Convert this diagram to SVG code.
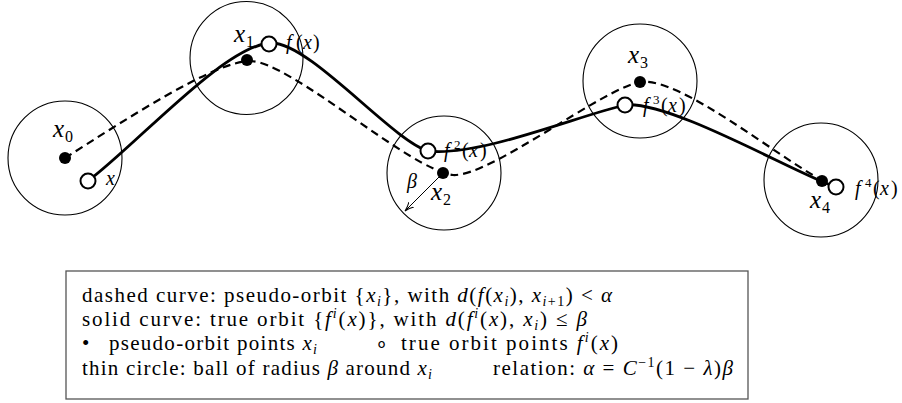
<svg xmlns="http://www.w3.org/2000/svg" width="902" height="403" viewBox="0 0 902 403">
<defs>
<style>
.ball{fill:none;stroke:#000;stroke-width:1.1}
.pt{fill:#000}
.tp{fill:#fff;stroke:#000;stroke-width:2}
.lab{font-family:"Liberation Serif","Times New Roman",serif;font-style:italic;font-size:25px;fill:#000}
.sub{font-size:16px;font-style:normal}
.flab{font-family:"Liberation Serif","Times New Roman",serif;font-style:italic;font-size:20px;fill:#000}
.up{font-style:normal}
.sup{font-size:13px;font-style:normal}
.dash{fill:none;stroke:#000;stroke-width:2.2;stroke-dasharray:8 5}
.solid{fill:none;stroke:#000;stroke-width:2.8;stroke-linecap:round}
.leg{font-family:"Liberation Serif","Times New Roman",serif;font-size:21px;fill:#000}
.i{font-style:italic}
.s{font-size:14px}
</style>
<marker id="ah" markerWidth="10" markerHeight="8" refX="9" refY="4" orient="auto" markerUnits="userSpaceOnUse">
<path d="M0,0.5 Q4,3 9,4 Q4,5 0,7.5" fill="none" stroke="#000" stroke-width="1"/>
</marker>
</defs>

<g id="balls">
<circle class="ball" cx="65" cy="158" r="57"/>
<circle class="ball" cx="246.5" cy="58" r="56.5"/>
<circle class="ball" cx="444" cy="173" r="57"/>
<circle class="ball" cx="640" cy="81" r="57"/>
<circle class="ball" cx="821" cy="180" r="57"/>
</g>

<g id="connectors">
<path id="pseudo-orbit" class="dash" d="M65,158 C125,120 215,61 250,61 C290,61 410,170 453,175 C490,177 600,90 640,82 C680,76 780,159 822,180"/>
<path id="true-orbit" class="solid" d="M88,181 C138,143.5 227,43 272,43 C310,43 393,141 428,151 C480,157 580,115 625,105 C670,100 800,176 836,187"/>
<line id="beta-arrow" x1="442" y1="174" x2="405" y2="211" stroke="#000" stroke-width="1" marker-end="url(#ah)"/>
</g>

<g id="node-x0">
<circle class="pt" cx="65" cy="158" r="6"/>
<text class="lab" x="53" y="137">x<tspan class="sub" x="65" dy="5">0</tspan></text>
</g>
<g id="node-fx0">
<circle class="tp" cx="88" cy="181" r="7.5"/>
<text class="flab" x="106" y="185">x</text>
</g>

<g id="node-x1">
<circle class="pt" cx="247" cy="60" r="6"/>
<text class="lab" x="234" y="42">x<tspan class="sub" x="246" dy="5">1</tspan></text>
</g>
<g id="node-fx1">
<circle class="tp" cx="269" cy="44" r="7.5"/>
<text class="flab" x="286 296 303 313" y="49">f<tspan class="up">(</tspan>x<tspan class="up">)</tspan></text>
</g>

<g id="node-x2">
<circle class="pt" cx="443" cy="173" r="6"/>
<text class="lab" x="431" y="200">x<tspan class="sub" x="443" dy="5">2</tspan></text>
<text class="flab" x="407" y="188">β</text>
</g>
<g id="node-fx2">
<circle class="tp" cx="428" cy="151" r="7.5"/>
<text class="flab" x="444" y="157">f<tspan class="sup" x="454" dy="-8">2</tspan><tspan class="up" x="462" dy="8">(</tspan><tspan x="469">x</tspan><tspan class="up" x="480">)</tspan></text>
</g>

<g id="node-x3">
<circle class="pt" cx="640" cy="82" r="6"/>
<text class="lab" x="628" y="63">x<tspan class="sub" x="640" dy="5">3</tspan></text>
</g>
<g id="node-fx3">
<circle class="tp" cx="625" cy="105" r="7.5"/>
<text class="flab" x="643" y="112">f<tspan class="sup" x="653" dy="-8">3</tspan><tspan class="up" x="661" dy="8">(</tspan><tspan x="668">x</tspan><tspan class="up" x="679">)</tspan></text>
</g>

<g id="node-x4">
<circle class="pt" cx="822" cy="181" r="6"/>
<text class="lab" x="810" y="208">x<tspan class="sub" x="822" dy="5">4</tspan></text>
</g>
<g id="node-fx4">
<circle class="tp" cx="836" cy="187" r="7.5"/>
<text class="flab" x="855" y="195">f<tspan class="sup" x="865" dy="-8">4</tspan><tspan class="up" x="873" dy="8">(</tspan><tspan x="880">x</tspan><tspan class="up" x="891">)</tspan></text>
</g>

<g id="legend">
<rect x="66" y="271" width="682" height="128" fill="#fff" stroke="#555" stroke-width="1.3"/>
<text class="leg" x="82" y="302" textLength="530" lengthAdjust="spacing">dashed curve: pseudo-orbit {<tspan class="i">x</tspan><tspan class="s i" dy="4">i</tspan><tspan dy="-4">}, with </tspan><tspan class="i">d</tspan>(<tspan class="i">f</tspan>(<tspan class="i">x</tspan><tspan class="s i" dy="4">i</tspan><tspan dy="-4">), </tspan><tspan class="i">x</tspan><tspan class="s" dy="4"><tspan class="i">i</tspan>+1</tspan><tspan dy="-4">) &lt; </tspan><tspan class="i">α</tspan></text>
<text class="leg" x="82" y="326" textLength="505" lengthAdjust="spacing">solid curve: true orbit {<tspan class="i">f</tspan><tspan class="s i" dy="-8">i</tspan><tspan dy="8">(</tspan><tspan class="i">x</tspan>)}, with <tspan class="i">d</tspan>(<tspan class="i">f</tspan><tspan class="s i" dy="-8">i</tspan><tspan dy="8">(</tspan><tspan class="i">x</tspan>), <tspan class="i">x</tspan><tspan class="s i" dy="4">i</tspan><tspan dy="-4">) ≤ </tspan><tspan class="i">β</tspan></text>
<text class="leg" x="82" y="350">•</text>
<text class="leg" x="109" y="350" textLength="208" lengthAdjust="spacing">pseudo-orbit points <tspan class="i">x</tspan><tspan class="s i" dy="4">i</tspan></text>
<text class="leg" x="375" y="350">∘</text>
<text class="leg" x="401" y="350" textLength="217" lengthAdjust="spacing">true orbit points <tspan class="i">f</tspan><tspan class="s i" dy="-8">i</tspan><tspan dy="8">(</tspan><tspan class="i">x</tspan>)</text>
<text class="leg" x="82" y="375" textLength="350" lengthAdjust="spacing">thin circle: ball of radius <tspan class="i">β</tspan> around <tspan class="i">x</tspan><tspan class="s i" dy="4">i</tspan></text>
<text class="leg" x="493" y="375" textLength="240" lengthAdjust="spacing">relation: <tspan class="i">α</tspan> = <tspan class="i">C</tspan><tspan class="s" dy="-8">−1</tspan><tspan dy="8">(1 − </tspan><tspan class="i">λ</tspan>)<tspan class="i">β</tspan></text>
</g>
</svg>
